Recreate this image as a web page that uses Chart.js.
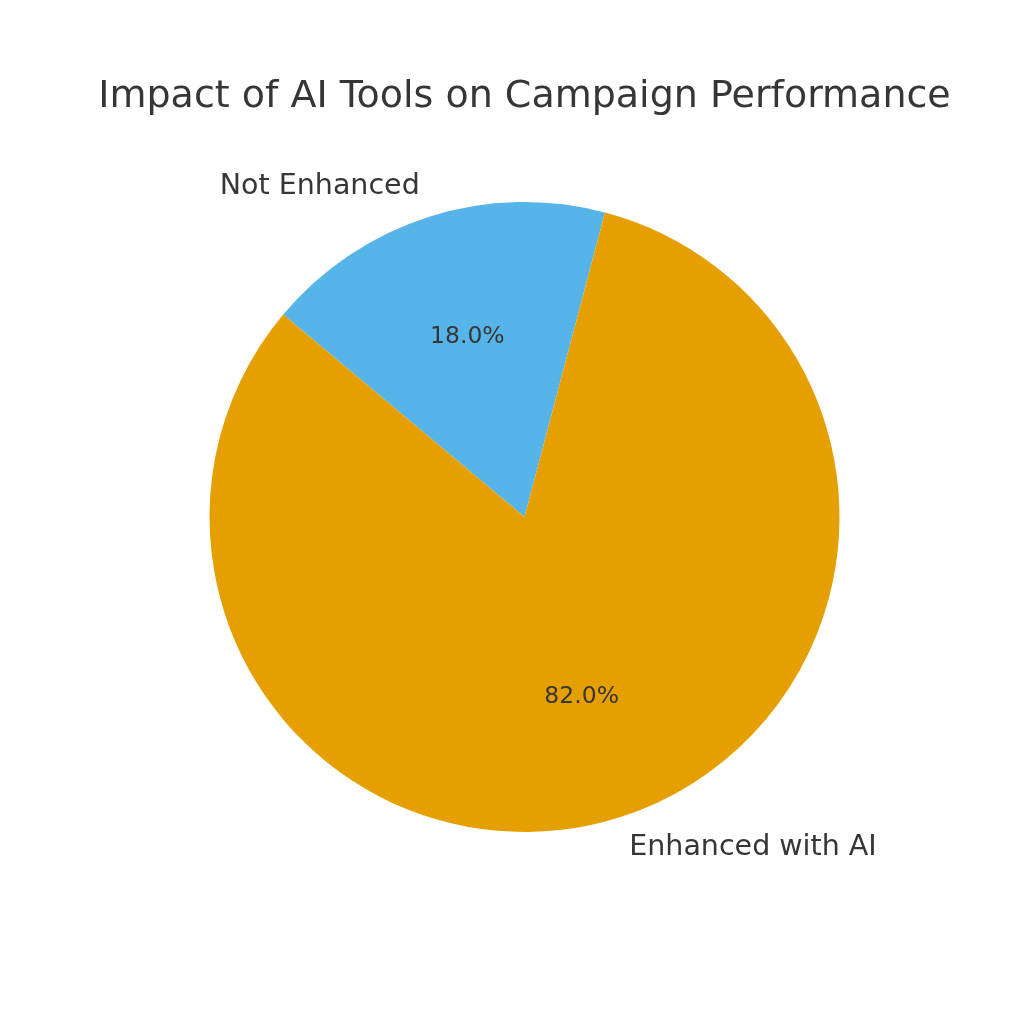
<!DOCTYPE html>
<html>
<head>
<meta charset="utf-8">
<script src="https://cdn.jsdelivr.net/npm/chart.js@4/dist/chart.umd.min.js"></script>
<style>
html,body{margin:0;padding:0;background:#fff;}
#wrap{position:relative;width:1024px;height:1024px;}
</style>
</head>
<body>
<div id="wrap"><canvas id="c" width="1024" height="1024"></canvas></div>
<script>
const titleText = "Impact of AI Tools on Campaign Performance";
const categories = ["Not Enhanced", "Enhanced with AI"];
const values = [18, 82];
const colors = ["#56B4E9", "#E69F00"];

const FONT = "'DejaVu Sans', sans-serif";
const TEXT_COLOR = "#363636";

const labelPlugin = {
  id: "pieLabels",
  afterDatasetsDraw(chart) {
    const ctx = chart.ctx;
    const meta = chart.getDatasetMeta(0);
    const total = values.reduce((a, b) => a + b, 0);
    ctx.save();
    // title
    ctx.fillStyle = TEXT_COLOR;
    ctx.font = "38px " + FONT;
    ctx.textAlign = "center";
    ctx.textBaseline = "middle";
    ctx.fillText(titleText, (chart.chartArea.left + chart.chartArea.right) / 2, 97);
    meta.data.forEach((arc, i) => {
      const p = arc.getProps(["x", "y", "startAngle", "endAngle", "outerRadius"], true);
      const mid = (p.startAngle + p.endAngle) / 2;
      const r = p.outerRadius;
      const px = p.x + Math.cos(mid) * r * 0.6;
      const py = p.y + Math.sin(mid) * r * 0.6;
      ctx.fillStyle = TEXT_COLOR;
      ctx.font = "23.5px " + FONT;
      ctx.textAlign = "center";
      ctx.textBaseline = "middle";
      ctx.fillText((values[i] / total * 100).toFixed(1) + "%", px, py);
      const lx = p.x + Math.cos(mid) * r * 1.1;
      const ly = p.y + Math.sin(mid) * r * 1.1;
      ctx.font = "28.5px " + FONT;
      ctx.textAlign = Math.cos(mid) < 0 ? "right" : "left";
      ctx.textBaseline = "middle";
      ctx.fillText(categories[i], lx, ly);
    });
    ctx.restore();
  }
};

new Chart(document.getElementById("c"), {
  type: "pie",
  data: {
    labels: categories,
    datasets: [{
      data: values,
      backgroundColor: colors,
      borderWidth: 0
    }]
  },
  options: {
    responsive: false,
    animation: false,
    rotation: -50,
    layout: { padding: { top: 202, bottom: 192, left: 209, right: 184 } },
    plugins: {
      legend: { display: false },
      tooltip: { enabled: false },
      title: { display: false }
    }
  },
  plugins: [labelPlugin]
});
</script>
</body>
</html>
